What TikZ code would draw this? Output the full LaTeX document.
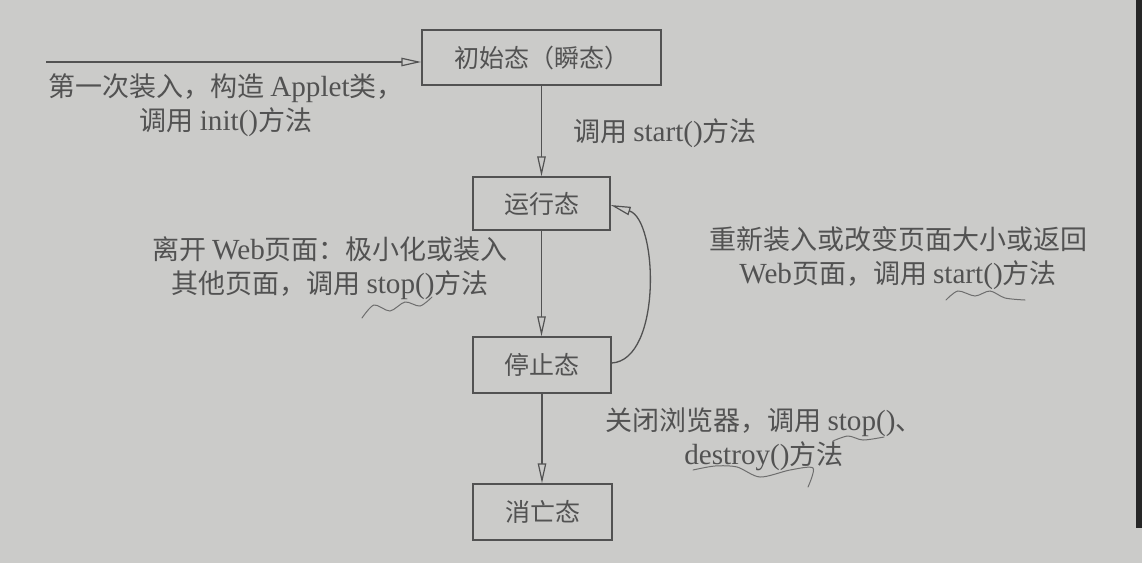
\documentclass[tikz,border=0pt]{standalone}
\usepackage{fontspec}
\setmainfont{Noto Sans CJK SC}
\newfontfamily\latinfont[Scale=1.08]{Liberation Serif}
\newcommand{\en}[1]{{\latinfont #1}}
\usetikzlibrary{arrows.meta}
\definecolor{paper}{RGB}{203,203,201}
\definecolor{ink}{RGB}{82,82,82}
\definecolor{pen}{RGB}{110,110,110}
\begin{document}
\begin{tikzpicture}[x=1pt,y=-1pt,
  state/.style={draw=ink, line width=1.4pt, inner sep=0pt, text=ink,
    font=\fontsize{25}{28}\selectfont},
  lbl/.style={text=ink, inner sep=0pt, align=center,
    font=\fontsize{27}{34}\selectfont},
  flow/.style={draw=ink, line width=1.3pt,
    -{Triangle[open, length=20pt, width=8.5pt, line width=1.2pt]}},
  scribble/.style={draw=pen, line width=1pt, line cap=round}]

% page
\fill[paper] (0,0) rectangle (1142,563);
\useasboundingbox (0,0) rectangle (1142,563);
\fill[black!85] (1136,0) rectangle (1142,528);

% states
\node[state, minimum width=239pt, minimum height=55pt] (init) at (541.5,57.5) {初始态（瞬态）};
\node[state, minimum width=137pt, minimum height=53pt] (run)  at (541.5,203.5) {运行态};
\node[state, minimum width=138pt, minimum height=56pt] (stop) at (542,365) {停止态};
\node[state, minimum width=139pt, minimum height=56pt] (dead) at (542.5,512) {消亡态};

% transitions
\coordinate (src) at (46,62);
\draw[flow] (src) -- (init.west |- src);
\draw[flow] (init.south) -- (run.north);
\draw[flow] (run.south) -- (stop.north -| run.south);
\draw[flow] (stop.south) -- (dead.north -| stop.south);
\draw[flow] ([yshift=2pt]stop.east) .. controls (662,360) and (658,220) .. ([yshift=-1.5pt]run.east);

% transition labels
\node[lbl] (lload) at (226,105) {第一次装入，构造 \en{Applet}类，\\调用 \en{init()}方法};
\node[lbl, anchor=west] (lstart) at (573,133) {调用 \en{start()}方法};
\node[lbl] (lleave) at (330,268) {离开 \en{Web}页面：极小化或装入\\其他页面，调用 \en{stop()}方法};
\node[lbl] (lback) at (898,258) {重新装入或改变页面大小或返回\\\en{Web}页面，调用 \en{start()}方法};
\node[lbl] (lclose) at (764,439) {关闭浏览器，调用 \en{stop()}、\\\en{destroy()}方法};

% pen marks under method names
\draw[scribble] plot[smooth] coordinates {(362,318) (374,305) (390,311) (405,302) (420,306) (432,297)};
\draw[scribble] plot[smooth] coordinates {(946,300) (958,291) (975,296) (990,291) (1005,298) (1025,300)};
\draw[scribble] plot[smooth] coordinates {(833,441) (848,436) (863,440) (884,437)};
\draw[scribble] plot[smooth] coordinates {(693,470) (715,466) (737,467) (760,477) (790,470) (813,468) (808,487)};
\end{tikzpicture}
\end{document}
